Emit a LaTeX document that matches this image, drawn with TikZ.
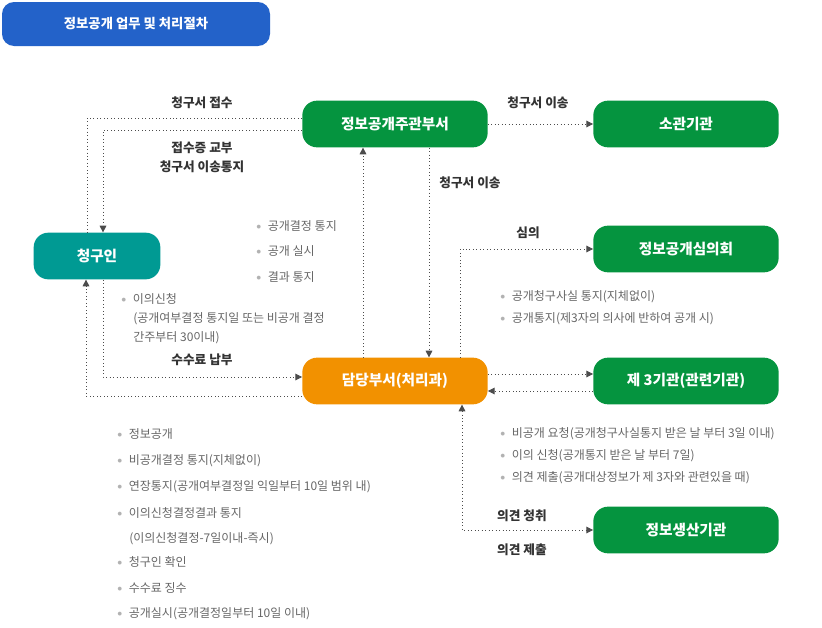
\documentclass[tikz,border=0pt]{standalone}
\usepackage{fontspec}
\setmainfont{Noto Sans CJK KR}
\usetikzlibrary{arrows.meta}
\definecolor{titleblue}{HTML}{2362C9}
\definecolor{boxgreen}{HTML}{05943F}
\definecolor{boxteal}{HTML}{009A93}
\definecolor{boxorange}{HTML}{F29100}
\definecolor{txtgray}{HTML}{666666}
\tikzset{
  box/.style={rounded corners=11pt, text=white, font=\fontsize{11}{13}\selectfont\bfseries, minimum width=139pt, minimum height=35pt, inner sep=0pt},
  lab/.style={font=\fontsize{9.5}{11}\selectfont\bfseries, text=black!80},
  note/.style={font=\fontsize{9}{11}\selectfont, text=txtgray, anchor=west, inner sep=0pt},
  flow/.style={dotted, line width=0.6pt, black!70},
  tip/.style={-{Triangle[length=5pt,width=5pt]}}
}
\newcommand{\dotmark}{\textcolor{gray!60}{\raisebox{0.15ex}{\scalebox{0.8}{$\bullet$}}}\hspace{5pt}}
\begin{document}
\begin{tikzpicture}[x=0.75pt,y=-0.75pt]
\useasboundingbox (0,0) rectangle (822,628);
\node[fill=titleblue, rounded corners=9pt, text=white, font=\fontsize{10}{12}\selectfont\bfseries, minimum width=201pt, minimum height=33pt, inner sep=0pt] (title) at (136,24) {정보공개 업무 및 처리절차};

\node[box, fill=boxgreen] (main) at (395,124) {정보공개주관부서};
\node[box, fill=boxgreen] (agency) at (686,124) {소관기관};
\node[box, fill=boxteal, minimum width=95pt] (client) at (97,256) {청구인};
\node[box, fill=boxgreen] (council) at (686,249) {정보공개심의회};
\node[box, fill=boxorange] (dept) at (395,381) {담당부서(처리과)};
\node[box, fill=boxgreen] (third) at (686,381) {제 3기관(관련기관)};
\node[box, fill=boxgreen] (origin) at (686,530) {정보생산기관};

% 청구인 <-> 주관부서
\draw[flow] (main.west |- 0,118) -| (client.north -| 87,0);
\draw[flow, tip] (main.west |- 0,130) -| (client.north -| 103,0);
% 청구인 <-> 담당부서
\draw[flow, tip] (client.south -| 103,0) |- (dept.west |- 0,377);
\draw[flow, tip] (dept.west |- 0,396) -| (client.south -| 86,0);
% 주관부서 <-> 담당부서
\draw[flow, tip] (dept.north -| 363,0) -- (main.south -| 363,0);
\draw[flow, tip] (main.south -| 429,0) -- (dept.north -| 429,0);
\draw[flow, tip] (main.east) -- (agency.west |- main.east);
\draw[flow, tip] (dept.north -| 460,0) |- (council.west);
\draw[flow, tip] (dept.east |- 0,374) -- (third.west |- 0,374);
\draw[flow, tip] (third.west |- 0,391) -- (dept.east |- 0,391);
\draw[flow, {Triangle[length=5pt,width=5pt]}-{Triangle[length=5pt,width=5pt]}] (dept.south -| 462,0) |- (origin.west);

\node[lab] (l1) at (202,103) {청구서 접수};
\node[lab, align=center] (l2) at (202,157) {접수증 교부\\[3pt]청구서 이송통지};
\node[lab] (l3) at (538,103) {청구서 이송};
\node[lab] (l4) at (470,183) {청구서 이송};
\node[lab] (l5) at (202,360) {수수료 납부};
\node[lab] (l6) at (528,233) {심의};
\node[lab] (l7) at (522,516) {의견 청취};
\node[lab] (l8) at (522,550) {의견 제출};

\node[note] at (256,226) {\dotmark 공개결정 통지};
\node[note] at (256,251) {\dotmark 공개 실시};
\node[note] at (256,277) {\dotmark 결과 통지};
\node[note] at (121,299) {\dotmark 이의신청};
\node[note] at (133,319) {(공개여부결정 통지일 또는 비공개 결정};
\node[note] at (133,338) {간주부터 30이내)};
\node[note] at (500,297) {\dotmark 공개청구사실 통지(지체없이)};
\node[note] at (500,319) {\dotmark 공개통지(제3자의 의사에 반하여 공개 시)};
\node[note] at (500,434) {\dotmark 비공개 요청(공개청구사실통지 받은 날 부터 3일 이내)};
\node[note] at (500,456) {\dotmark 이의 신청(공개통지 받은 날 부터 7일)};
\node[note] at (500,478) {\dotmark 의견 제출(공개대상정보가 제 3자와 관련있을 때)};

\node[note] at (117,434) {\dotmark 정보공개};
\node[note] at (117,461) {\dotmark 비공개결정 통지(지체없이)};
\node[note] at (117,487) {\dotmark 연장통지(공개여부결정일 익일부터 10일 범위 내)};
\node[note] at (117,513) {\dotmark 이의신청결정결과 통지};
\node[note] at (129,539) {(이의신청결정-7일이내-즉시)};
\node[note] at (117,562) {\dotmark 청구인 확인};
\node[note] at (117,588) {\dotmark 수수료 징수};
\node[note] at (117,614) {\dotmark 공개실시(공개결정일부터 10일 이내)};
\end{tikzpicture}
\end{document}
